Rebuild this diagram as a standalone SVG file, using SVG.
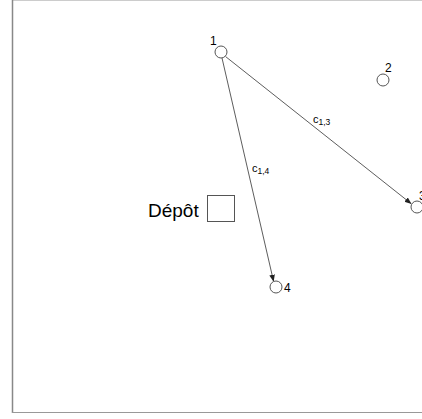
<svg xmlns="http://www.w3.org/2000/svg" width="422" height="419" viewBox="0 0 422 419">
<style>
.n{fill:#fff;stroke:#555;stroke-width:1}
.t{font-family:"Liberation Sans",Arial,sans-serif;fill:#000}
.e{stroke:#333;stroke-width:0.8;fill:none;marker-end:url(#a)}
</style>
<defs>
<marker id="a" viewBox="0 0 10 10" refX="9" refY="5" markerWidth="7" markerHeight="7" orient="auto" markerUnits="userSpaceOnUse">
<path d="M0,1 L10,5 L0,9 Z" fill="#222"/>
</marker>
</defs>
<rect width="422" height="419" fill="#fff"/>
<g id="frame">
<line x1="12.5" y1="0.5" x2="422" y2="0.5" stroke="#ccc" stroke-width="1"/>
<line x1="12.5" y1="0" x2="12.5" y2="413" stroke="#888" stroke-width="1.5"/>
<line x1="12" y1="412.5" x2="422" y2="412.5" stroke="#999" stroke-width="1"/>
</g>
<g id="connectors">
<line class="e" x1="225.5" y1="56.5" x2="411" y2="203.5"/>
<line class="e" x1="222" y1="58" x2="273.5" y2="281"/>
<text class="t" x="313" y="123" font-size="11">c<tspan font-size="8.5" dy="2">1,3</tspan></text>
<text class="t" x="252" y="172" font-size="11">c<tspan font-size="8.5" dy="2">1,4</tspan></text>
</g>
<g id="node1"><circle class="n" cx="221" cy="52" r="6"/><text class="t" x="210" y="45" font-size="12">1</text></g>
<g id="node2"><circle class="n" cx="383" cy="80" r="6"/><text class="t" x="385" y="72" font-size="12">2</text></g>
<g id="node3"><circle class="n" cx="417" cy="207" r="6"/><text class="t" x="419" y="200" font-size="12">3</text></g>
<g id="node4"><circle class="n" cx="276" cy="287" r="6"/><text class="t" x="284" y="292" font-size="12">4</text></g>
<g id="depot"><rect class="n" x="207.5" y="195.5" width="27" height="26"/><text class="t" x="148" y="217" font-size="19">Dépôt</text></g>
</svg>
